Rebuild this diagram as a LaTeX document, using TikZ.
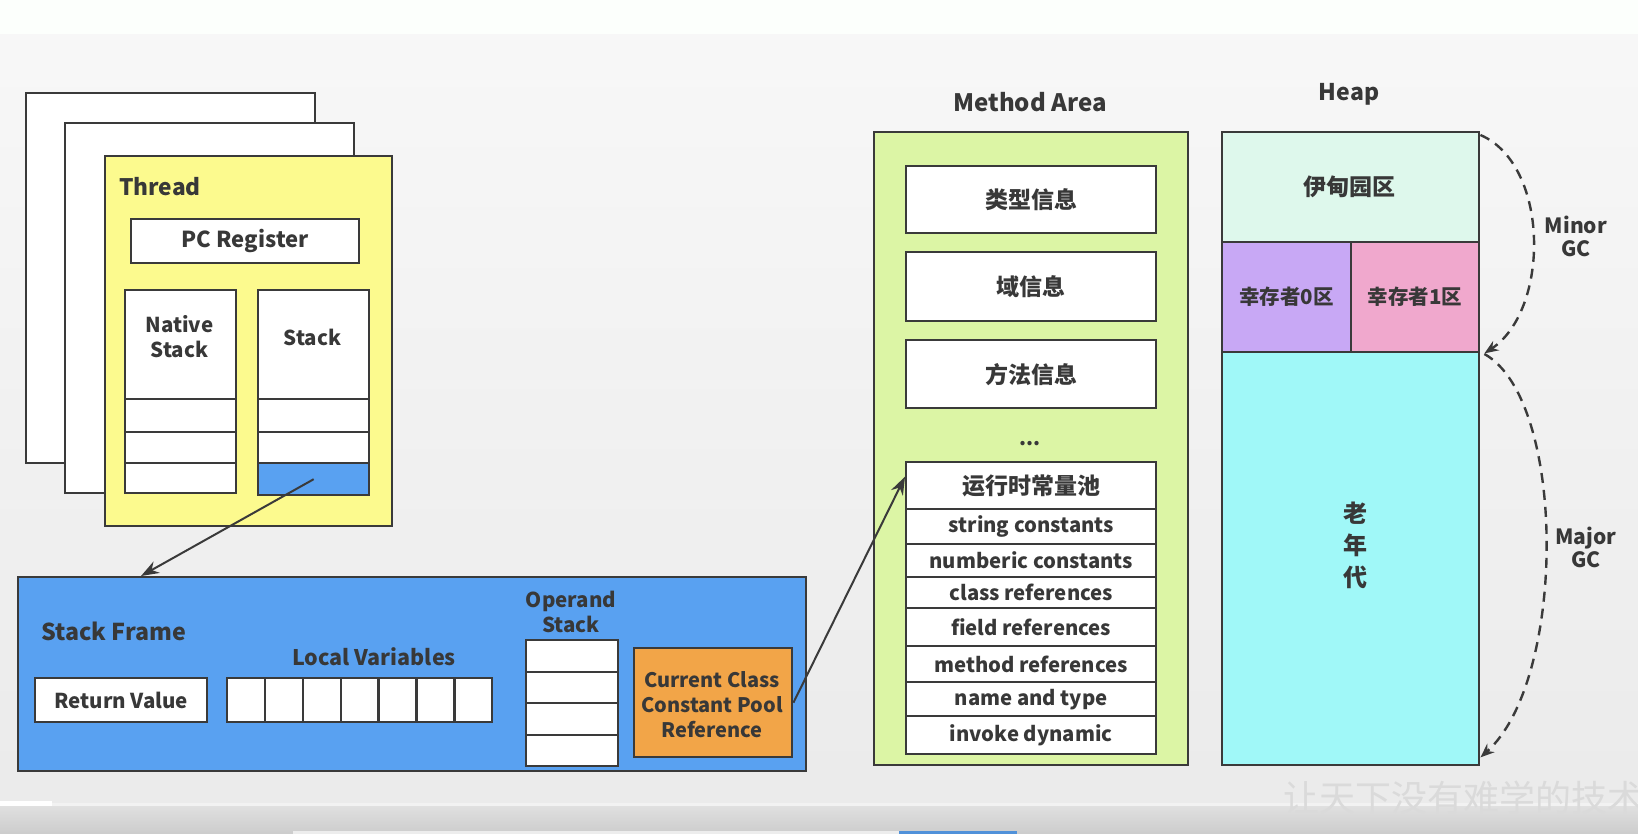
\documentclass[tikz,border=0pt]{standalone}
\usepackage{fontspec}
\setmainfont{Noto Sans CJK SC}
\newfontfamily\cjk{Noto Sans CJK SC}
\usetikzlibrary{arrows.meta,calc}
\definecolor{edge}{HTML}{3A3A3A}
\definecolor{txt}{HTML}{383838}
\definecolor{yel}{HTML}{FCFA8E}
\definecolor{blu}{HTML}{59A1F1}
\definecolor{org}{HTML}{F2A548}
\definecolor{grn}{HTML}{DCF5A5}
\definecolor{eden}{HTML}{DEF8EC}
\definecolor{sz}{HTML}{C8A8F5}
\definecolor{so}{HTML}{F0A8CD}
\definecolor{old}{HTML}{A0F8F8}
\definecolor{wm}{HTML}{DADADA}
\newcommand{\myfs}[2]{\fontsize{#1}{#2}\selectfont}
\begin{document}
\begin{tikzpicture}[x=1pt,y=-1pt,
  box/.style={draw=edge, line width=2.4pt, inner sep=0pt, anchor=north west, fill=white},
  lbl/.style={inner sep=0pt, text=txt, font=\bfseries\myfs{22.7}{25}},
  sm/.style={inner sep=0pt, text=txt, font=\bfseries\myfs{20.5}{25}},
  row/.style={inner sep=0pt, text=txt, font=\bfseries\myfs{20.3}{25}},
  cj/.style={inner sep=0pt, text=txt, font=\cjk\bfseries\myfs{23}{25}},
  arr/.style={draw=edge, line width=2pt, -{Stealth[length=18pt,width=13pt]}},
  gc/.style={draw=edge, line width=2.4pt, dash pattern=on 10pt off 7pt, -{Stealth[length=14pt,width=11pt]}}
]
\path[use as bounding box] (0,0) rectangle (1638,834);
% background
\fill[white!98!green!50!white] (0,0) rectangle (1638,35);
\shade[top color=white!97!black, bottom color=white!92!black] (0,35) rectangle (1638,805);
\shade[top color=white!88!black, bottom color=white!80!black] (0,805) rectangle (1638,834);
\fill[white!95!black] (0,803) rectangle (1638,806);
\fill[white] (0,801) rectangle (52,806);
\fill[white!93!black] (293,831) rectangle (899,834);
\fill[blu!90!black] (899,831) rectangle (1017,834);
\node[anchor=west, inner sep=0pt, text=wm, font=\cjk\myfs{36}{36}] (wmk) at (1283,798) {让天下没有难学的技术};

% thread pages
\node[box, minimum width=289pt, minimum height=370pt] (p1) at (25,92) {};
\node[box, minimum width=289pt, minimum height=370pt] (p2) at (64,122) {};
\node[box, fill=yel, minimum width=287pt, minimum height=370pt] (thread) at (104,155) {};
\node[lbl, anchor=west] (threadlbl) at (119,187) {Thread};
\node[box, minimum width=228pt, minimum height=44pt] (pc) at (130,218) {};
\node[lbl, font=\bfseries\myfs{22}{25}] (pclbl) at (pc.center) {PC Register};
% native stack
\node[box, minimum width=111pt, minimum height=109pt] (ntop) at (124,289) {};
\node[box, minimum width=111pt, minimum height=33pt] (n1) at (124,398) {};
\node[box, minimum width=111pt, minimum height=31pt] (n2) at (124,431) {};
\node[box, minimum width=111pt, minimum height=30pt] (n3) at (124,462) {};
\node[sm, align=center] (nlbl) at (179.5,337) {Native\\Stack};
% java stack
\node[box, minimum width=111pt, minimum height=109pt] (stop) at (257,289) {};
\node[box, minimum width=111pt, minimum height=33pt] (s1) at (257,398) {};
\node[box, minimum width=111pt, minimum height=31pt] (s2) at (257,431) {};
\node[box, fill=blu, minimum width=111pt, minimum height=32pt] (s3) at (257,462) {};
\node[sm] (slbl) at (312.5,337) {Stack};

% stack frame
\node[box, fill=blu, minimum width=788pt, minimum height=194pt] (frame) at (17,576) {};
\coordinate (ftip) at (141,576);
\draw[arr] (s3.center) -- (ftip);
\node[lbl, font=\bfseries\myfs{23.2}{25}, anchor=west] (sflbl) at (41,631) {Stack Frame};
\node[box, minimum width=172pt, minimum height=44pt] (ret) at (34,677) {};
\node[sm] (retlbl) at (ret.center) {Return Value};
\node[lbl, font=\bfseries\myfs{21.5}{25}] (lvlbl) at (374,657) {Local Variables};
\foreach \i in {0,...,6} {
  \node[box, minimum width=37.86pt, minimum height=44pt] (lv\i) at (226+\i*37.86,677) {};
}
\node[sm, align=center] (oplbl) at (571,612) {Operand\\Stack};
\node[box, minimum width=92pt, minimum height=32pt] (op1) at (525,639) {};
\node[box, minimum width=92pt, minimum height=31pt] (op2) at (525,671) {};
\node[box, minimum width=92pt, minimum height=32pt] (op3) at (525,702) {};
\node[box, minimum width=92pt, minimum height=31pt] (op4) at (525,734) {};
\node[box, fill=org, minimum width=158pt, minimum height=109pt] (cp) at (633,647) {};
\node[sm, font=\bfseries\myfs{20}{25}, align=center] (cplbl) at (712,705) {Current Class\\Constant Pool\\Reference};

% method area
\node[lbl, font=\bfseries\myfs{24}{25}] (malbl) at (1030,102) {Method Area};
\node[box, fill=grn, minimum width=314pt, minimum height=633pt] (ma) at (873,131) {};
\node[box, minimum width=250pt, minimum height=67pt] (t1) at (905,165) {};
\node[cj] at (t1.center) {类型信息};
\node[box, minimum width=250pt, minimum height=69pt] (t2) at (905,251) {};
\node[cj] at (t2.center) {域信息};
\node[box, minimum width=250pt, minimum height=68pt] (t3) at (905,339) {};
\node[cj] at (t3.center) {方法信息};
\node[lbl, font=\bfseries\myfs{20}{20}] (dots) at (1030,444) {...};
\node[box, minimum width=250pt, minimum height=47pt] (rcp0) at (905,461) {};
\node[cj] at (rcp0.center) {运行时常量池};
\node[box, minimum width=250pt, minimum height=35pt] (rcp1) at (905,508) {};
\node[row] at (rcp1.center) {string constants};
\node[box, minimum width=250pt, minimum height=33pt] (rcp2) at (905,543) {};
\node[row] at (rcp2.center) {numberic constants};
\node[box, minimum width=250pt, minimum height=31pt] (rcp3) at (905,576) {};
\node[row] at (rcp3.center) {class references};
\node[box, minimum width=250pt, minimum height=38pt] (rcp4) at (905,607) {};
\node[row] at (rcp4.center) {field references};
\node[box, minimum width=250pt, minimum height=36pt] (rcp5) at (905,645) {};
\node[row] at (rcp5.center) {method references};
\node[box, minimum width=250pt, minimum height=34pt] (rcp6) at (905,681) {};
\node[row] at (rcp6.center) {name and type};
\node[box, minimum width=250pt, minimum height=38pt] (rcp7) at (905,715) {};
\node[row] at (rcp7.center) {invoke dynamic};
\draw[arr] (cp.east) -- ([yshift=9pt]rcp0.west);

% heap
\node[lbl, font=\bfseries\myfs{23}{25}] (heaplbl) at (1349,94) {Heap};
\node[box, fill=eden, minimum width=257pt, minimum height=110pt] (eden) at (1221,131) {};
\node[cj] at (1349,187) {伊甸园区};
\node[box, fill=sz, minimum width=129pt, minimum height=110pt] (s0) at (1221,241) {};
\node[cj, font=\cjk\bfseries\myfs{20.5}{25}] at (s0.center) {幸存者0区};
\node[box, fill=so, minimum width=128pt, minimum height=110pt] (s1h) at (1350,241) {};
\node[cj, font=\cjk\bfseries\myfs{20.5}{25}] at (s1h.center) {幸存者1区};
\node[box, fill=old, minimum width=257pt, minimum height=413pt] (old) at (1221,351) {};
\node[cj, font=\cjk\bfseries\myfs{24}{32}, align=center] (oldlbl) at (1355,545) {老\\年\\代};
\draw[gc] ([yshift=-4pt]eden.north east) .. controls (1550,165) and (1550,310) .. ([xshift=4pt]s1h.south east);
\draw[gc] ([xshift=4pt,yshift=-3pt]old.north east) .. controls (1567,400) and (1567,680) .. ([yshift=9pt]old.south east);
\node[sm, font=\bfseries\myfs{21}{23}, align=center] (minor) at (1576,236) {Minor\\GC};
\node[sm, font=\bfseries\myfs{21}{23}, align=center] (major) at (1586,547) {Major\\GC};
\end{tikzpicture}
\end{document}
